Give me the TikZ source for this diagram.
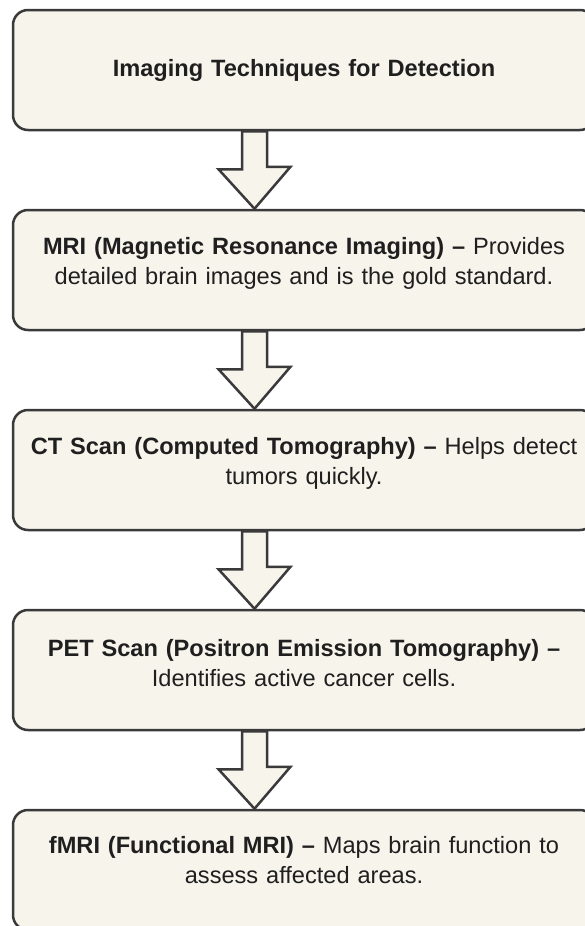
\documentclass[tikz,border=0pt]{standalone}
\usepackage{fontspec}
\setmainfont{Liberation Sans}
\usetikzlibrary{positioning}
\definecolor{boxfill}{HTML}{F7F4EC}
\definecolor{boxline}{HTML}{3A3A3A}
\begin{document}
\begin{tikzpicture}[x=1pt,y=1pt,
    stepbox/.style={draw=boxline, line width=2.5pt, fill=boxfill, rounded corners=15pt,
        minimum width=582pt, minimum height=120pt, inner sep=0pt},
    steptext/.style={text width=582pt, align=center, inner sep=0pt,
        font=\fontsize{23.6}{30}\selectfont, text=black!88},
    flowarrow/.style={draw=boxline, line width=2.5pt, fill=boxfill, line join=miter}]
        % hollow arrow from the bottom of one box to the top of the next
        \def\steparrow(#1,#2){\draw[flowarrow] ([xshift=-62pt]#1.south) -- ++(0,-38)
            -- ++(-23.5,0) -- ([xshift=-49.5pt]#2.north) -- ++(36,42) -- ++(-23.5,0)
            -- ([xshift=-37pt]#1.south) -- cycle;}

        \useasboundingbox (0,0) rectangle (585,-926);

        \node[stepbox] (title) at (304,-70) {};
        \node[steptext, font=\fontsize{23.6}{30}\selectfont\bfseries] (titletext) at (title) {Imaging Techniques for Detection};

        \node[stepbox] (mri) at (304,-270) {};
        \node[steptext] (mritext) at ([yshift=-54.5pt]mri.north)
            {\textbf{MRI (Magnetic Resonance Imaging) –} Provides\\detailed brain images and is the gold standard.};

        \node[stepbox] (ct) at (304,-470) {};
        \node[steptext] (cttext) at ([yshift=-54.5pt]ct.north)
            {\textbf{CT Scan (Computed Tomography) –} Helps detect\\tumors quickly.};

        \node[stepbox] (pet) at (304,-670) {};
        \node[steptext] (pettext) at ([yshift=-54.5pt]pet.north)
            {\textbf{PET Scan (Positron Emission Tomography) –}\\Identifies active cancer cells.};

        \node[stepbox] (fmri) at (304,-870) {};
        \node[steptext] (fmritext) at ([yshift=-51.5pt]fmri.north)
            {\textbf{fMRI (Functional MRI) –} Maps brain function to\\assess affected areas.};

        \steparrow(title,mri)
        \steparrow(mri,ct)
        \steparrow(ct,pet)
        \steparrow(pet,fmri)
\end{tikzpicture}
\end{document}
